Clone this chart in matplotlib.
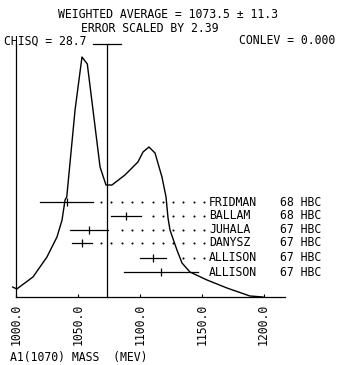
import numpy as np
import matplotlib
matplotlib.use("Agg")
import matplotlib.pyplot as plt

# ideogram curve (mass in MeV, height in arbitrary units)
curve_mass = [997.3, 1000.6, 1013.7, 1025.0, 1033.1, 1037.2, 1039.6, 1041.0, 1047.7,
              1053.3, 1057.6, 1067.9, 1072.7, 1077.5, 1088.0, 1098.5, 1102.6, 1107.4,
              1112.3, 1117.9, 1121.2, 1122.8, 1124.4, 1130.0, 1134.1, 1140.5, 1154.3,
              1170.4, 1189.0, 1199.5]
curve_height = [10, 8, 20, 40, 60, 77, 97, 100, 187,
                240, 233, 130, 112, 112, 122, 135, 145, 150,
                144, 120, 100, 79, 67, 47, 34, 25, 17,
                9, 1, 0]

# individual measurements
names = ["FRIDMAN", "BALLAM", "JUHALA", "DANYSZ", "ALLISON", "ALLISON"]
years = ["68", "68", "67", "67", "67", "67"]
techn = ["HBC", "HBC", "HBC", "HBC", "HBC", "HBC"]
mass = [1041, 1089, 1059, 1053, 1111, 1117]
err = [21.5, 12, 15, 8, 10.5, 30]
row_y = [95, 81.5, 67.5, 54, 39.5, 25]

avg, avg_err = 1073.5, 11.3
scale = 2.39
chisq = 28.7
conlev = 0.000

ticks = [1000.0, 1050.0, 1100.0, 1150.0, 1200.0]

W, H = 352, 365
fig = plt.figure(figsize=(W / 100, H / 100), dpi=100)
ax = fig.add_axes([16 / W, 68 / H, 269 / W, 253 / H])
ax.set_xlim(1000, 1217.3)
ax.set_ylim(0, 253)

mono = dict(family="DejaVu Sans Mono", fontsize=8.3, color="black")

ax.plot(curve_mass, curve_height, color="black", lw=1.0, clip_on=False)

# weighted average with its error at the top
ax.plot([avg, avg], [0, 253], color="black", lw=0.9, clip_on=False)
ax.plot([avg - avg_err, avg + avg_err], [253, 253], color="black", lw=0.9, clip_on=False)

# dotted leaders on a common grid
dot_x = 1068.7 + 8.32 * np.arange(11)
for m, e, y, n, yr, t in zip(mass, err, row_y, names, years, techn):
    ax.plot([m - e, m + e], [y, y], color="black", lw=0.9)
    ax.plot([m], [y], marker="|", ms=6, mew=0.9, color="black")
    d = dot_x[dot_x > m + e + 5.7]
    ax.scatter(d, np.full(len(d), y), s=2.2, color="black", lw=0)
    ax.text(1155.9, y, n, ha="left", va="center", **mono)
    ax.text(1213.2, y, yr + " " + t, ha="left", va="center", clip_on=False, **mono)

for s in ["top", "right"]:
    ax.spines[s].set_visible(False)
ax.spines["left"].set_linewidth(0.9)
ax.spines["bottom"].set_linewidth(0.9)
ax.set_yticks([])
ax.set_xticks(ticks)
ax.set_xticklabels(["%.1f" % t for t in ticks], rotation=90, **mono)
ax.tick_params(axis="x", direction="in", length=2, width=0.8, pad=5)

def ftext(px, py, s):
    fig.text(px / W, 1 - py / H, s, ha="left", va="center", **mono)

ftext(58, 15, "WEIGHTED AVERAGE = %.1f \u00b1 %.1f" % (avg, avg_err))
ftext(81, 28, "ERROR SCALED BY %.2f" % scale)
ftext(4, 41, "CHISQ = %.1f" % chisq)
ftext(239, 41, "CONLEV = %.3f" % conlev)
ftext(10, 357, "A1(1070) MASS  (MEV)")

fig.savefig("out.png", dpi=100, facecolor="white")
